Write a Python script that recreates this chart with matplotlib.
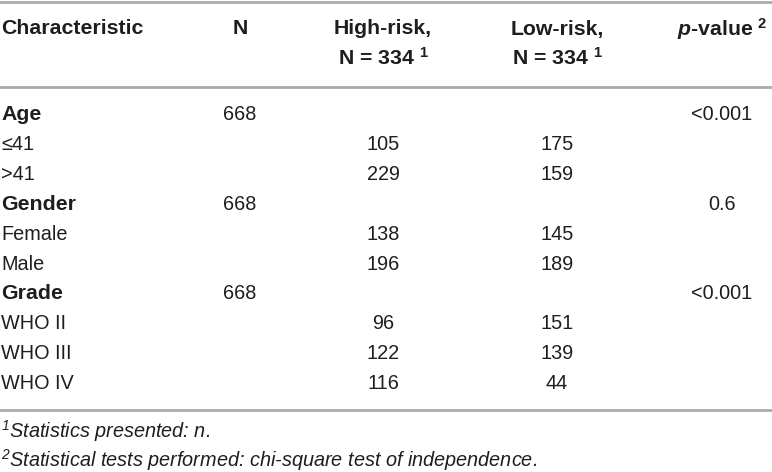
import matplotlib
matplotlib.use("Agg")
import matplotlib.pyplot as plt

# ---- data ----
characteristics = ["Age", "≤41", ">41", "Gender", "Female", "Male",
                   "Grade", "WHO II", "WHO III", "WHO IV"]
is_variable = [True, False, False, True, False, False, True, False, False, False]
n_values = ["668", "", "", "668", "", "", "668", "", "", ""]
high_risk = ["", "105", "229", "", "138", "196", "", "96", "122", "116"]
low_risk = ["", "175", "159", "", "145", "189", "", "151", "139", "44"]
p_values = ["<0.001", "", "", "0.6", "", "", "<0.001", "", "", ""]
headers = ["Characteristic", "N", "High-risk,\nN = 334 $^{1}$",
           "Low-risk,\nN = 334 $^{1}$", "$\\mathit{p}$-value $^{2}$"]
footnotes = ["$^{1}$Statistics presented: n.",
             "$^{2}$Statistical tests performed: chi-square test of independence."]

plt.rcParams["font.family"] = ["Liberation Sans", "DejaVu Sans"]
plt.rcParams["mathtext.fontset"] = "custom"
plt.rcParams["mathtext.default"] = "regular"
plt.rcParams["mathtext.it"] = "Liberation Sans:italic:bold"

W, H = 772, 472
fig = plt.figure(figsize=(W / 100, H / 100), dpi=100)
ax = fig.add_axes([0, 0, 1, 1])
ax.set_xlim(0, W)
ax.set_ylim(H, 0)
ax.axis("off")

txt = "#1e1e1e"
line_c = "#ababab"
fs = 14.3
fs_b = 15.3

col_x = [1, 240, 383, 557, 722]
aligns = ["left", "center", "center", "center", "center"]

# rules
for y in (1.5, 86.5, 410):
    ax.axhline(y, color=line_c, lw=2.0, xmin=0, xmax=1)

# headers
for x, ha, h in zip(col_x, aligns, headers):
    if "\n" in h:
        top, bot = h.split("\n")
        ax.text(x, 29, top, ha=ha, va="center", fontsize=fs_b, fontweight="bold", color=txt)
        ax.text(x, 58, bot, ha=ha, va="center", fontsize=fs_b, fontweight="bold", color=txt)
    else:
        ax.text(x, 29, h, ha=ha, va="center", fontsize=fs_b, fontweight="bold", color=txt)

# body
y0, dy = 115, 29.8
for i in range(len(characteristics)):
    y = y0 + i * dy
    row = [characteristics[i], n_values[i], high_risk[i], low_risk[i], p_values[i]]
    for j, (x, ha, v) in enumerate(zip(col_x, aligns, row)):
        if not v:
            continue
        bold = (j == 0 and is_variable[i])
        ax.text(x, y, v, ha=ha, va="center", fontsize=fs_b if bold else fs,
                fontweight="bold" if bold else "normal", color=txt)

# footnotes
for k, f in enumerate(footnotes):
    ax.text(1, 431 + k * 29, f, ha="left", va="center", fontsize=fs,
            style="italic", color=txt)

fig.savefig("out.png", dpi=100)
